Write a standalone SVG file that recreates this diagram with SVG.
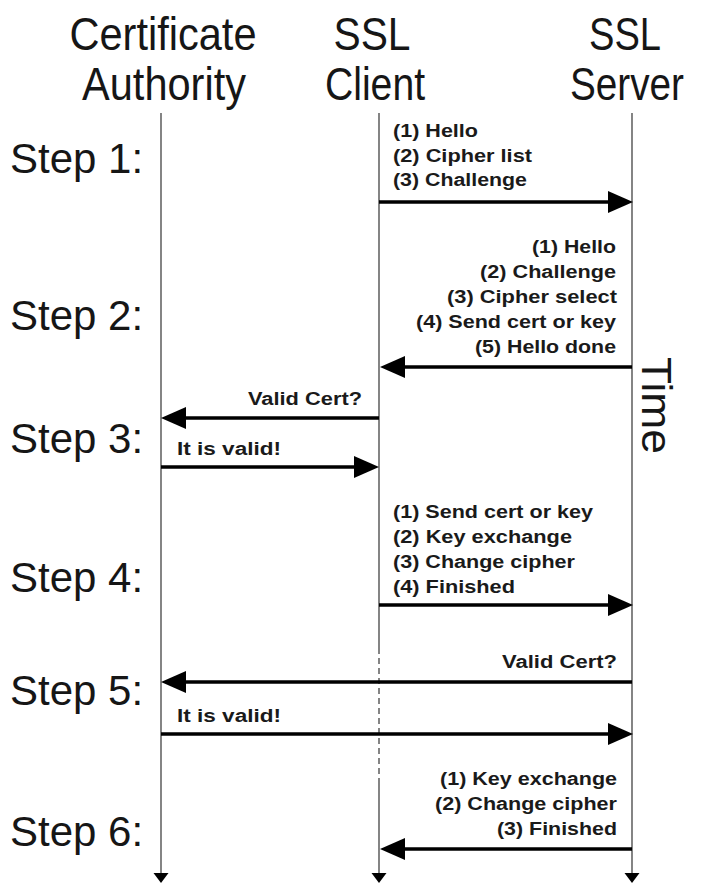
<svg xmlns="http://www.w3.org/2000/svg" width="701" height="883" viewBox="0 0 701 883">
<style>
.hdr{font-family:"Liberation Sans",Arial,sans-serif;font-size:46px;fill:#161616;text-anchor:middle}
.step{font-family:"Liberation Sans",Arial,sans-serif;font-size:42px;fill:#161616}
.msg{font-family:"Liberation Sans",Arial,sans-serif;font-size:18px;font-weight:bold;fill:#1a1a1a}
.end{text-anchor:end}
.life{stroke:#666;stroke-width:1.6;fill:none}
.arrow{stroke:#000;stroke-width:3.5;fill:none}
</style>
<defs>
<marker id="ah" markerUnits="userSpaceOnUse" markerWidth="26" markerHeight="24" refX="4" refY="11" orient="auto">
<path d="M0,0 L25,11 L0,22 z" fill="#000"/>
</marker>
<marker id="lh" markerUnits="userSpaceOnUse" markerWidth="16" markerHeight="16" refX="0" refY="7.5" orient="auto">
<path d="M0,0 L10,7.5 L0,15 z" fill="#000"/>
</marker>
</defs>
<rect width="701" height="883" fill="#fff"/>

<g id="ca">
<text class="hdr" x="163" y="50" textLength="187" lengthAdjust="spacingAndGlyphs">Certificate</text>
<text class="hdr" x="164" y="100" textLength="164" lengthAdjust="spacingAndGlyphs">Authority</text>
<line class="life" x1="161" y1="113" x2="161" y2="873" marker-end="url(#lh)"/>
</g>
<g id="client">
<text class="hdr" x="372" y="50" textLength="77" lengthAdjust="spacingAndGlyphs">SSL</text>
<text class="hdr" x="375" y="100" textLength="100" lengthAdjust="spacingAndGlyphs">Client</text>
<line class="life" x1="379" y1="113" x2="379" y2="648"/>
<line class="life" x1="379" y1="648" x2="379" y2="780" stroke="#555" stroke-dasharray="6,4"/>
<line class="life" x1="379" y1="780" x2="379" y2="873" marker-end="url(#lh)"/>
</g>
<g id="server">
<text class="hdr" x="625" y="50" textLength="72" lengthAdjust="spacingAndGlyphs">SSL</text>
<text class="hdr" x="627" y="100" textLength="114" lengthAdjust="spacingAndGlyphs">Server</text>
<line class="life" x1="632" y1="113" x2="632" y2="873" marker-end="url(#lh)"/>
</g>
<g id="time">
<text class="step" transform="translate(642,357) rotate(90)" textLength="97" lengthAdjust="spacingAndGlyphs">Time</text>
</g>

<g id="steps">
<text class="step" x="10" y="173">Step 1:</text>
<text class="step" x="10" y="330">Step 2:</text>
<text class="step" x="10" y="453">Step 3:</text>
<text class="step" x="10" y="592">Step 4:</text>
<text class="step" x="10" y="705">Step 5:</text>
<text class="step" x="10" y="846">Step 6:</text>
</g>

<g id="connectors">
<line class="arrow" x1="379" y1="202" x2="612" y2="202" marker-end="url(#ah)"/>
<line class="arrow" x1="632" y1="367" x2="401" y2="367" marker-end="url(#ah)"/>
<line class="arrow" x1="379" y1="418" x2="182" y2="418" marker-end="url(#ah)"/>
<line class="arrow" x1="161" y1="467" x2="358" y2="467" marker-end="url(#ah)"/>
<line class="arrow" x1="379" y1="605" x2="612" y2="605" marker-end="url(#ah)"/>
<line class="arrow" x1="632" y1="682" x2="182" y2="682" marker-end="url(#ah)"/>
<line class="arrow" x1="161" y1="734" x2="612" y2="734" marker-end="url(#ah)"/>
<line class="arrow" x1="632" y1="849" x2="401" y2="849" marker-end="url(#ah)"/>
</g>

<g id="step1-labels">
<text class="msg" x="393" y="137" textLength="85" lengthAdjust="spacingAndGlyphs">(1) Hello</text>
<text class="msg" x="393" y="162" textLength="139" lengthAdjust="spacingAndGlyphs">(2) Cipher list</text>
<text class="msg" x="393" y="186" textLength="134" lengthAdjust="spacingAndGlyphs">(3) Challenge</text>
</g>
<g id="step2-labels">
<text class="msg end" x="616" y="253" textLength="84" lengthAdjust="spacingAndGlyphs">(1) Hello</text>
<text class="msg end" x="616" y="278" textLength="136" lengthAdjust="spacingAndGlyphs">(2) Challenge</text>
<text class="msg end" x="617" y="303" textLength="170" lengthAdjust="spacingAndGlyphs">(3) Cipher select</text>
<text class="msg end" x="616" y="328" textLength="200" lengthAdjust="spacingAndGlyphs">(4) Send cert or key</text>
<text class="msg end" x="616" y="353" textLength="141" lengthAdjust="spacingAndGlyphs">(5) Hello done</text>
</g>
<g id="step3-labels">
<text class="msg" x="248" y="405" textLength="114" lengthAdjust="spacingAndGlyphs">Valid Cert?</text>
<text class="msg" x="177" y="455" textLength="104" lengthAdjust="spacingAndGlyphs">It is valid!</text>
</g>
<g id="step4-labels">
<text class="msg" x="393" y="518" textLength="200" lengthAdjust="spacingAndGlyphs">(1) Send cert or key</text>
<text class="msg" x="393" y="543" textLength="179" lengthAdjust="spacingAndGlyphs">(2) Key exchange</text>
<text class="msg" x="393" y="568" textLength="182" lengthAdjust="spacingAndGlyphs">(3) Change cipher</text>
<text class="msg" x="393" y="593" textLength="122" lengthAdjust="spacingAndGlyphs">(4) Finished</text>
</g>
<g id="step5-labels">
<text class="msg end" x="617" y="668" textLength="115" lengthAdjust="spacingAndGlyphs">Valid Cert?</text>
<text class="msg" x="177" y="722" textLength="104" lengthAdjust="spacingAndGlyphs">It is valid!</text>
</g>
<g id="step6-labels">
<text class="msg end" x="617" y="785" textLength="177" lengthAdjust="spacingAndGlyphs">(1) Key exchange</text>
<text class="msg end" x="617" y="810" textLength="182" lengthAdjust="spacingAndGlyphs">(2) Change cipher</text>
<text class="msg end" x="617" y="835" textLength="120" lengthAdjust="spacingAndGlyphs">(3) Finished</text>
</g>
</svg>
